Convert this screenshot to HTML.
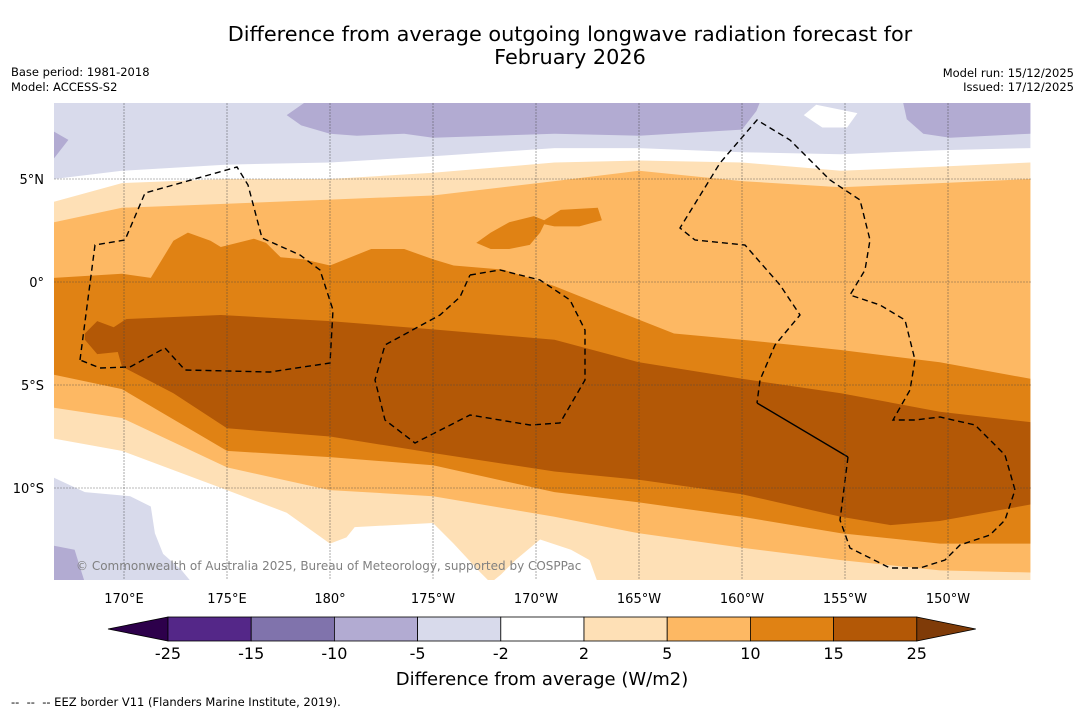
<!DOCTYPE html>
<html><head><meta charset="utf-8"><style>
body{margin:0;background:#fff;font-family:"Liberation Sans",sans-serif;}
svg text{font-family:"DejaVu Sans","Liberation Sans",sans-serif;}
</style></head><body>
<svg id="chart" width="1085" height="713" xmlns="http://www.w3.org/2000/svg">
<rect width="1085" height="713" fill="#fff"/>
<text x="570" y="41" font-size="20.8" text-anchor="middle">Difference from average outgoing longwave radiation forecast for</text>
<text x="570" y="64" font-size="20.8" text-anchor="middle">February 2026</text>
<text x="11" y="76" font-size="11.5">Base period: 1981-2018</text>
<text x="11" y="91" font-size="11.5">Model: ACCESS-S2</text>
<text x="1074" y="77" font-size="11.5" text-anchor="end">Model run: 15/12/2025</text>
<text x="1074" y="91" font-size="11.5" text-anchor="end">Issued: 17/12/2025</text>
<defs><clipPath id="mc"><rect x="54" y="103" width="977" height="477"/></clipPath></defs>
<g id="map" clip-path="url(#mc)"></g>
<g id="axes"></g>
<g id="cbar"></g>
<text x="542" y="685" font-size="18" text-anchor="middle">Difference from average (W/m2)</text>
<text x="11" y="706" font-size="11.5" xml:space="preserve">--  --  -- EEZ border V11 (Flanders Marine Institute, 2019).</text>
</svg>
<script>
// ---- data ----
const levels = [-25,-15,-10,-5,-2,2,5,10,15,25];
const bandColors = ["#542788","#8073ac","#b2abd2","#d8daeb","#ffffff","#fee0b6","#fdb863","#e08214","#b35806"];
const extLow = "#2d004b", extHigh = "#7f3b08";
const lonTicks = [170,175,180,185,190,195,200,205,210];
const lonLabels = ["170°E","175°E","180°","175°W","170°W","165°W","160°W","155°W","150°W"];
const latTicks = [5,0,-5,-10];
const latLabels = ["5°N","0°","5°S","10°S"];
// contour regions [lon(0-360), lat]
const leM2Top = [[166.6,8.7],[214,8.7],[214,6.5],[209.6,6.4],[204.8,6.2],[200,6.3],[195,6.5],[190.9,6.5],[185,6.1],[180,5.8],[175,5.7],[169.9,5.4],[166.6,5.0]];
const leM2BottomLeft = [[166.6,-9.5],[168.1,-10.2],[170.3,-10.4],[171.3,-10.9],[171.5,-12.2],[171.9,-13.2],[172.8,-14],[173.3,-14.6],[166.6,-14.6]];
const leM5TopA = [[177.9,8.1],[178.9,8.8],[200.9,8.8],[200.7,8.3],[200,7.4],[195,7.1],[190.9,7.2],[185,7.0],[183.6,7.2],[181.3,7.1],[180,7.2],[178.6,7.6]];
const leM5TopB = [[207.8,8.8],[214,8.8],[214,7.2],[210.1,7.0],[208.8,7.2],[208,7.9]];
const leM5TopC = [[166.6,7.3],[167.3,6.9],[166.6,6.0]];
const leM5BottomLeft = [[166.6,-12.8],[167.6,-13.0],[168.1,-14.6],[166.6,-14.6]];
const whiteBlob = [[203,8.1],[203.6,8.6],[205.6,8.2],[205.1,7.5],[203.9,7.5]];
const ge2 = [[166.6,3.9],[169.9,4.8],[175,5.0],[180,5.0],[185,5.3],[190.9,5.8],[195,5.9],[200,5.8],[204.8,5.4],[209.6,5.6],[214,5.8],[214,-14.6],[193,-14.6],[192.6,-13.5],[191.7,-13.0],[190.2,-12.5],[189,-13.5],[188.3,-14.2],[187.8,-14.6],[187.3,-14.1],[186,-12.7],[185,-11.7],[181.2,-11.9],[180.8,-12.4],[180,-12.7],[177.9,-11.2],[175,-10.1],[169.9,-8.2],[166.6,-7.6]];
const ge5 = [[166.6,2.9],[169.9,3.6],[175,3.8],[180,4.0],[185,4.2],[190.9,4.9],[195,5.4],[200,4.9],[204.8,4.6],[209.6,4.8],[214,5.0],[214,-14.1],[209.6,-14.0],[204.8,-13.5],[200,-12.9],[195,-12.2],[190.9,-11.4],[185,-10.4],[180,-10.1],[175,-9.0],[169.9,-6.6],[166.6,-6.1]];
const ge10 = [[166.6,0.2],[169.9,0.4],[171.3,0.2],[172.4,2.0],[173.1,2.4],[174.2,2.0],[174.7,1.7],[176.3,2.1],[176.9,1.9],[177.6,1.2],[178.7,1.1],[180,0.8],[182,1.6],[183.6,1.6],[185,1.1],[186,0.8],[188.4,0.6],[190.9,-0.2],[193.4,-1.2],[196.7,-2.5],[200,-2.8],[204.8,-3.3],[209.6,-3.9],[214,-4.7],[214,-12.7],[209.6,-12.7],[204.8,-12.2],[200,-11.4],[195,-10.7],[190.9,-10.2],[185,-8.9],[180,-8.5],[175,-8.2],[169.9,-5.2],[166.6,-4.5]];
const ge10Blob = [[187.1,1.9],[187.8,2.4],[188.7,2.9],[189.9,3.2],[190.4,3.0],[191.2,3.5],[193,3.6],[193.2,3.0],[192.1,2.7],[190.9,2.7],[190.4,2.8],[190.2,2.4],[189.7,1.8],[188.7,1.6],[187.8,1.6]];
const ge15 = [[168.1,-2.5],[168.7,-1.9],[169.5,-2.2],[170.1,-1.8],[174.7,-1.6],[180,-1.9],[185,-2.3],[190.9,-2.8],[195,-3.9],[200,-4.7],[204.8,-5.4],[209.6,-6.3],[214,-6.8],[214,-10.8],[209.6,-11.6],[207.2,-11.8],[204.8,-11.4],[200,-10.3],[195,-9.6],[190.9,-9.2],[185,-8.3],[180,-7.5],[175,-7.1],[172.4,-5.4],[169.9,-4.1],[169.7,-3.4],[168.7,-3.5],[168.1,-2.8]];

// ---- projection ----
const NS="http://www.w3.org/2000/svg";
function px(lon){return 330+(lon-180)*20.6;}
function py(lat){return 282-lat*20.6;}
function mk(tag,attrs,parent){const e=document.createElementNS(NS,tag);for(const k in attrs)e.setAttribute(k,attrs[k]);parent.appendChild(e);return e;}
const map=document.getElementById('map');
function region(pts,color,name){
  const d=pts.map((p,i)=>(i?'L':'M')+px(p[0]).toFixed(1)+' '+py(p[1]).toFixed(1)).join(' ')+'Z';
  const e=mk('path',{d:d,fill:color},map);
  
  
}
region(leM2Top,bandColors[3],'band-minus5-to-minus2-north');
region(leM2BottomLeft,bandColors[3],'band-minus5-to-minus2-southwest');
region(leM5TopA,bandColors[2],'band-minus10-to-minus5-north');
region(leM5TopB,bandColors[2],'band-minus10-to-minus5-northeast');
region(leM5TopC,bandColors[2],'band-minus10-to-minus5-northwest');
region(leM5BottomLeft,bandColors[2],'band-minus10-to-minus5-southwest');
region(whiteBlob,bandColors[4],'band-neutral-north');
region(ge2,bandColors[5],'band-2-to-5');
region(ge5,bandColors[6],'band-5-to-10');
region(ge10,bandColors[7],'band-10-to-15');
region(ge10Blob,bandColors[7],'band-10-to-15-blob');
region(ge15,bandColors[8],'band-15-to-25');

// EEZ overlays (map geometry)
const eez1=[[80,360],[95,245],[125,240],[145,193],[237,167],[248,185],[262,238],[300,255],[320,270],[333,310],[330,363],[270,372],[185,370],[165,348],[130,367],[100,368],[80,360]];
const eez2=[[470,275],[500,270],[540,280],[570,300],[585,330],[585,380],[560,423],[530,425],[470,415],[415,443],[385,420],[375,380],[385,345],[440,315],[460,297],[470,275]];
const eez3=[[848,457],[840,520],[850,548],[890,568],[920,568],[945,560],[960,545],[990,535],[1005,520],[1015,490],[1005,455],[975,425],[940,417],[915,420],[893,420],[910,390],[915,360],[905,320],[880,305],[850,295],[865,270],[870,240],[860,200],[830,180],[790,140],[757,120],[720,163],[680,228],[695,240],[745,245],[780,285],[800,315],[775,345],[760,380],[757,403]];
const eezSolid=[[757,403],[848,457]];
[eez1,eez2,eez3].forEach((pts,i)=>{
  const e=mk('polyline',{points:pts.map(p=>p.join(',')).join(' '),fill:'none',stroke:'#000','stroke-width':1.4,'stroke-dasharray':'6 4'},map);
  
  
});
const sl=mk('polyline',{points:eezSolid.map(p=>p.join(',')).join(' '),fill:'none',stroke:'#000','stroke-width':1.4},map);



// gridlines + labels
const axes=document.getElementById('axes');
lonTicks.forEach((lon,i)=>{
  const x=px(lon);
  const g=mk('line',{x1:x,x2:x,y1:103,y2:580,stroke:'#444','stroke-width':0.6,'stroke-dasharray':'2 1',opacity:0.75},map);
  
  
  const t=mk('text',{x:x,y:603,'font-size':13,'text-anchor':'middle'},axes);
  t.textContent=lonLabels[i];
  
  
});
latTicks.forEach((lat,i)=>{
  const y=py(lat);
  const g=mk('line',{x1:54,x2:1031,y1:y,y2:y,stroke:'#444','stroke-width':0.6,'stroke-dasharray':'2 1',opacity:0.75},map);
  
  
  const t=mk('text',{x:44,y:y+5,'font-size':13,'text-anchor':'end'},axes);
  t.textContent=latLabels[i];
  
  
});
const cp=mk('text',{x:76,y:570,'font-size':12,fill:'#808080'},axes);
cp.textContent='© Commonwealth of Australia 2025, Bureau of Meteorology, supported by COSPPac';



// colorbar
const cb=document.getElementById('cbar');
const cbX0=168, cbW=83.2, cbY=617, cbH=24;
const lt=mk('polygon',{points:`108,${cbY+cbH/2} ${cbX0},${cbY} ${cbX0},${cbY+cbH}`,fill:extLow,stroke:'#000','stroke-width':0.8},cb);


bandColors.forEach((c,i)=>{
  const r=mk('rect',{x:cbX0+i*cbW,y:cbY,width:cbW,height:cbH,fill:c,stroke:'#000','stroke-width':0.8},cb);
  
  
});
const xe=cbX0+bandColors.length*cbW;
const rt=mk('polygon',{points:`${xe},${cbY} ${xe+59},${cbY+cbH/2} ${xe},${cbY+cbH}`,fill:extHigh,stroke:'#000','stroke-width':0.8},cb);


levels.forEach((v,i)=>{
  const t=mk('text',{x:cbX0+i*cbW,y:659,'font-size':16,'text-anchor':'middle'},cb);
  t.textContent=String(v);
  
  
});
</script>
</body></html>
